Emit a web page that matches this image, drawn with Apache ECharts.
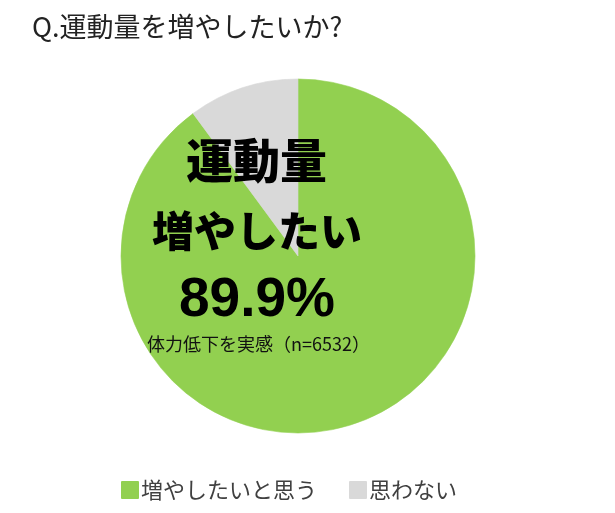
<!DOCTYPE html>
<html lang="ja">
<head>
<meta charset="UTF-8" />
<title>運動量を増やしたいか</title>
<style>
    html, body { margin: 0; padding: 0; background: #fff; }
    #chart { width: 615px; height: 513px; }
</style>
</head>
<body>
<div id="chart"></div>
<script src="https://cdn.jsdelivr.net/npm/echarts@6/dist/echarts.min.js"></script>
<script>
var categories = ['増やしたいと思う', '思わない'];
var values = [89.9, 10.1];
var colors = ['#92D050', '#D9D9D9'];
var sampleNote = '体力低下を実感（n=6532）';

var jpFont = '"Noto Sans CJK JP", sans-serif';
var chart = echarts.init(document.getElementById('chart'));

var pieData = categories.map(function (name, i) {
    return { name: name, value: values[i], itemStyle: { color: colors[i], borderColor: colors[i] } };
});

var option = {
    animation: false,
    title: {
        text: 'Q.運動量を増やしたいか?',
        left: 27,
        top: 8,
        textStyle: { fontFamily: jpFont, fontWeight: 'normal', fontSize: 27, color: '#222' }
    },
    legend: {
        data: categories,
        left: 116,
        top: 474,
        icon: 'rect',
        itemWidth: 16,
        itemHeight: 16,
        itemGap: 32,
        textStyle: { fontFamily: jpFont, fontSize: 22, color: '#404040', padding: [0, 0, 0, -2] }
    },
    series: [{
        type: 'pie',
        center: [298, 256],
        radius: 177,
        startAngle: 90,
        clockwise: true,
        silent: true,
        label: { show: false },
        labelLine: { show: false },
        itemStyle: { borderWidth: 0.6 },
        data: pieData
    }],
    graphic: {
        elements: [
            {
                type: 'text', left: 186, top: 137, z: 100,
                style: { text: '運動量', fill: '#000', fontSize: 47, fontWeight: 900, fontFamily: jpFont }
            },
            {
                type: 'text', left: 152, top: 210, z: 100,
                style: { text: '増やしたい', fill: '#000', fontSize: 42, fontWeight: 900, fontFamily: jpFont }
            },
            {
                type: 'text', left: 179, top: 273, z: 100,
                style: { text: values[0].toFixed(1) + '%', fill: '#000', fontSize: 55, fontWeight: 'bold', fontFamily: '"Liberation Sans", Arial, sans-serif' }
            },
            {
                type: 'text', left: 147, top: 335, z: 100,
                style: { text: sampleNote, fill: '#111', fontSize: 18, fontFamily: jpFont }
            }
        ]
    }
};
chart.setOption(option);
</script>
</body>
</html>
